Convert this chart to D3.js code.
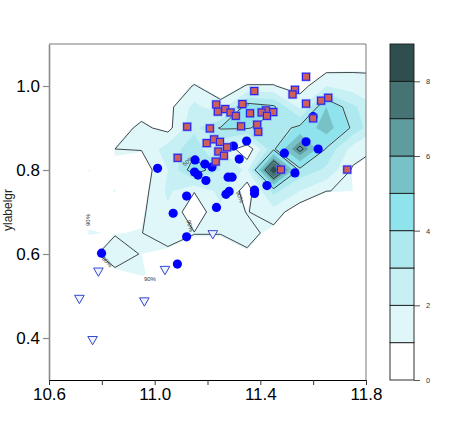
<!DOCTYPE html>
<html>
<head>
<meta charset="utf-8">
<script src="https://cdn.jsdelivr.net/npm/d3@7"></script>
<style>
  body { margin: 0; background: #fff; }
  text { font-family: "Liberation Sans", Arial, sans-serif; }
</style>
</head>
<body>
<div id="chart"></div>
<script>
// density grid (rows from top y=1.10 down to y=0.30)
const gridX = [10.55, 10.65, 10.75, 10.85, 10.95, 11.05, 11.15, 11.25, 11.35, 11.45, 11.55, 11.65, 11.75, 11.85];
const gridY = [1.10, 1.05, 1.00, 0.95, 0.90, 0.85, 0.80, 0.75, 0.70, 0.65, 0.60, 0.55, 0.50, 0.45, 0.40, 0.35, 0.30];
const density = [
  [0, 0, 0,    0,    0,    0,   0,    0,    0,   0,   0,   0,    0,   0],
  [0, 0, 0,    0,    0,    0,   0.4,  0,    0.3, 0.3, 0,   0.5,  0.8, 0.8],
  [0, 0, 0,    0,    0,    0.5, 1.1,  0.6,  1.1, 1.1, 0.6, 2.0,  1.5, 1.4],
  [0, 0, 0,    0,    0.5,  0.7, 2.3,  1.3,  4.5, 4.1, 1.8, 5.0,  3.2, 2.0],
  [0, 0, 0,    0.5,  1.3,  0.7, 2.8,  4.0,  4.0, 3.3, 4.2, 5.5,  3.7, 2.0],
  [0, 0, 0,    1.05, 1.1,  2.5, 3.5,  2.0,  0.3, 3.7, 7.0, 3.8,  1.6, 1.0],
  [0, 0, 1.01, 0.9,  0.4,  2.0, 4.6,  3.0,  1.8, 8.9, 3.6, 2.8,  0.9, 0.5],
  [0, 0, 0.9,  1.01, 0.6,  2.2, 1.1,  2.3,  0.5, 3.3, 2.0, 1.06, 1.0, 0.3],
  [0, 0, 0.9,  0.9,  0.9,  1.8, 0.4,  1.8,  1.0, 1.6, 0.3, 0,    0,   0],
  [0, 0, 1.02, 0.98, 1.03, 1.5, 1.08, 1.08, 1.4, 0.7, 0,   0,    0,   0],
  [0, 0, 0.8,  1.5,  1.0,  0.8, 0.6,  0.6,  0.9, 0.3, 0,   0,    0,   0],
  [0, 0, 0,    0.8,  1.02, 0.9, 0,    0,    0,   0,   0,   0,    0,   0],
  [0, 0, 0,    0,    0,    0,   0,    0,    0,   0,   0,   0,    0,   0],
  [0, 0, 0,    0,    0,    0,   0,    0,    0,   0,   0,   0,    0,   0],
  [0, 0, 0,    0,    0,    0,   0,    0,    0,   0,   0,   0,    0,   0],
  [0, 0, 0,    0,    0,    0,   0,    0,    0,   0,   0,   0,    0,   0],
  [0, 0, 0,    0,    0,    0,   0,    0,    0,   0,   0,   0,    0,   0]
];

const fillLevels = [1, 2, 3, 4, 5, 6, 7, 8];
const levelColors = ["#ffffff", "#e0f7fa", "#c6f0f4", "#ade9ef", "#8fe3ec", "#78c1c7", "#5f9c9e", "#467374", "#2f4f4f"];
const lineLevels = [1.05, 3.9, 6.6];

// contour labels (data position, rotation)
const lineLabels = ["50%", "50%", "90%", "90%", "90%", "80%", "90%"];
const labelX = [11.126, 11.334, 11.134, 11.323, 10.748, 10.820, 10.982];
const labelY = [0.821, 0.952, 0.667, 0.736, 0.681, 0.581, 0.540];
const labelAngle = [-40, -28, 75, 70, -90, 45, 0];

// group 1: filled blue circles
const circX = [11.011, 11.153, 11.151, 11.164, 11.190, 11.217, 11.194, 11.278, 11.293, 11.121,
               11.348, 11.298, 11.320, 11.270, 11.282, 11.234, 11.070, 11.121, 11.378, 11.378,
               11.425, 11.531, 11.491, 11.573, 11.619, 11.600, 10.799, 11.086];
const circY = [0.804, 0.824, 0.795, 0.788, 0.814, 0.807, 0.775, 0.783, 0.783, 0.738,
               0.869, 0.857, 0.826, 0.742, 0.749, 0.711, 0.697, 0.641, 0.752, 0.744,
               0.763, 0.793, 0.840, 0.867, 0.850, 0.927, 0.602, 0.576];

// group 2: red squares
const sqX = [11.377, 11.233, 11.239, 11.267, 11.287, 11.307, 11.332, 11.361, 11.388, 11.327,
             11.123, 11.209, 11.225, 11.247, 11.197, 11.241, 11.262, 11.274, 11.231, 11.087,
             11.573, 11.531, 11.522, 11.573, 11.630, 11.657, 11.600, 11.421, 11.405, 11.449,
             11.425, 11.392, 11.478, 11.729];
const sqY = [0.988, 0.956, 0.939, 0.945, 0.937, 0.929, 0.957, 0.935, 0.908, 0.904,
             0.903, 0.899, 0.873, 0.867, 0.864, 0.844, 0.834, 0.854, 0.820, 0.829,
             1.022, 0.991, 0.980, 0.958, 0.965, 0.972, 0.923, 0.942, 0.937, 0.938,
             0.929, 0.891, 0.801, 0.801];

// group 3: open triangles
const triX = [10.787, 10.715, 10.961, 11.039, 10.765, 11.220];
const triY = [0.560, 0.495, 0.489, 0.564, 0.397, 0.649];

const xTicks = [10.6, 10.8, 11.0, 11.2, 11.4, 11.6, 11.8];
const xTickLabels = ["10.6", "", "11.0", "", "11.4", "", "11.8"];
const yTicks = [0.4, 0.6, 0.8, 1.0];
const barTicks = [0, 2, 4, 6, 8];

const svg = d3.select("#chart")
  .append("svg")
  .attr("width", 463)
  .attr("height", 436);

const plot = { left: 49, right: 366, top: 44, bottom: 380 };

const x = d3.scaleLinear().domain([10.6, 11.8]).range([plot.left, plot.right]);
const y = d3.scaleLinear().domain([0.3, 1.1]).range([plot.bottom, plot.top]);

svg.append("clipPath").attr("id", "plotclip")
  .append("rect")
  .attr("x", plot.left).attr("y", plot.top)
  .attr("width", plot.right - plot.left).attr("height", plot.bottom - plot.top);

// grid index space -> data -> pixels
const stepX = gridX[1] - gridX[0];
const stepY = gridY[1] - gridY[0];
const gridProj = d3.geoTransform({
  point(gx, gy) {
    this.stream.point(x(gridX[0] + (gx - 0.5) * stepX), y(gridY[0] + (gy - 0.5) * stepY));
  }
});
const gridPath = d3.geoPath(gridProj);
const values = density.flat();
const nx = gridX.length, ny = gridY.length;

const dens = svg.append("g").attr("clip-path", "url(#plotclip)");

dens.selectAll("path.band")
  .data(d3.contours().size([nx, ny]).thresholds(fillLevels)(values))
  .enter()
  .append("path")
  .attr("class", "band")
  .attr("d", gridPath)
  .attr("fill", d => levelColors[d.value])
  .attr("stroke", "none");

dens.selectAll("path.line")
  .data(d3.contours().size([nx, ny]).thresholds(lineLevels)(values))
  .enter()
  .append("path")
  .attr("class", "line")
  .attr("d", gridPath)
  .attr("fill", "none")
  .attr("stroke", "#1a1a1a")
  .attr("stroke-width", 0.8);

dens.selectAll("text.clab")
  .data(lineLabels)
  .enter()
  .append("text")
  .attr("class", "clab")
  .attr("transform", (d, i) => `translate(${x(labelX[i])},${y(labelY[i])}) rotate(${labelAngle[i]})`)
  .attr("text-anchor", "middle")
  .attr("dy", "0.35em")
  .attr("font-size", 6)
  .attr("fill", "#333")
  .text(d => d);

// markers
const marks = svg.append("g").attr("clip-path", "url(#plotclip)");

marks.selectAll("circle.g1")
  .data(circX)
  .enter()
  .append("circle")
  .attr("class", "g1")
  .attr("cx", d => x(d))
  .attr("cy", (d, i) => y(circY[i]))
  .attr("r", 4.6)
  .attr("fill", "#0000ff");

const sq = marks.selectAll("g.g2")
  .data(sqX)
  .enter()
  .append("g")
  .attr("class", "g2")
  .attr("transform", (d, i) => `translate(${x(d)},${y(sqY[i])})`);
sq.append("rect")
  .attr("x", -4.8).attr("y", -4.8).attr("width", 9.6).attr("height", 9.6)
  .attr("fill", "rgba(110,110,255,0.45)");
sq.append("rect")
  .attr("x", -3.5).attr("y", -3.5).attr("width", 7).attr("height", 7)
  .attr("fill", "#cf5f57")
  .attr("stroke", "#2323f0")
  .attr("stroke-width", 1.1);

marks.selectAll("path.g3")
  .data(triX)
  .enter()
  .append("path")
  .attr("class", "g3")
  .attr("d", d3.symbol(d3.symbolTriangle, 40))
  .attr("transform", (d, i) => `translate(${x(d)},${y(triY[i])}) rotate(180)`)
  .attr("fill", "#eef2ff")
  .attr("stroke", "#3347cc")
  .attr("stroke-width", 1);

// frame (top/right)
svg.append("path")
  .attr("d", `M${plot.left},${plot.top}H${plot.right}V${plot.bottom}`)
  .attr("fill", "none")
  .attr("stroke", "#7a7a7a")
  .attr("stroke-width", 1);

// axes
const yAxis = svg.append("g")
  .attr("transform", `translate(${plot.left},0)`)
  .call(d3.axisLeft(y).tickValues(yTicks).tickFormat(d3.format(".1f")).tickSize(6).tickSizeOuter(0).tickPadding(3));
yAxis.select(".domain").attr("stroke", "#8a8a8a").attr("stroke-width", 1.6);
yAxis.selectAll(".tick line").attr("stroke", "#8a8a8a").attr("stroke-width", 1.2);
yAxis.selectAll(".tick text").attr("font-size", 17).attr("fill", "#000")
  .attr("font-family", "Liberation Sans, Arial, sans-serif");

const xAxis = svg.append("g")
  .attr("transform", `translate(0,${plot.bottom})`)
  .call(d3.axisBottom(x).tickValues(xTicks).tickFormat((d, i) => xTickLabels[i]).tickSize(5).tickSizeOuter(0).tickPadding(3));
xAxis.select(".domain").attr("stroke", "#000").attr("stroke-width", 1.2);
xAxis.selectAll(".tick line").attr("stroke", "#333");
xAxis.selectAll(".tick text").attr("font-size", 17).attr("fill", "#000")
  .attr("font-family", "Liberation Sans, Arial, sans-serif");

svg.append("text")
  .attr("transform", `translate(11.5,${(plot.top + plot.bottom) / 2 - 2}) rotate(-90)`)
  .attr("text-anchor", "middle")
  .attr("font-size", 12)
  .attr("fill", "#222")
  .text("ylabelgr");

// colour bar
const bar = { left: 390, right: 414 };
const cy = d3.scaleLinear().domain([0, 9]).range([plot.bottom, plot.top]);
const barG = svg.append("g");
barG.selectAll("rect")
  .data(levelColors)
  .enter()
  .append("rect")
  .attr("x", bar.left)
  .attr("y", (d, i) => cy(i + 1))
  .attr("width", bar.right - bar.left)
  .attr("height", (d, i) => cy(i) - cy(i + 1))
  .attr("fill", d => d)
  .attr("stroke", "#1a1a1a")
  .attr("stroke-width", 0.9);

const barAxis = barG.append("g")
  .attr("transform", `translate(${bar.right},0)`)
  .call(d3.axisRight(cy).tickValues(barTicks).tickFormat(d3.format("d")).tickSize(6).tickSizeOuter(0).tickPadding(6));
barAxis.select(".domain").remove();
barAxis.selectAll(".tick line").attr("stroke", "#555");
barAxis.selectAll(".tick text").attr("font-size", 7.5).attr("fill", "#333")
  .attr("font-family", "Liberation Sans, Arial, sans-serif");
</script>
</body>
</html>
